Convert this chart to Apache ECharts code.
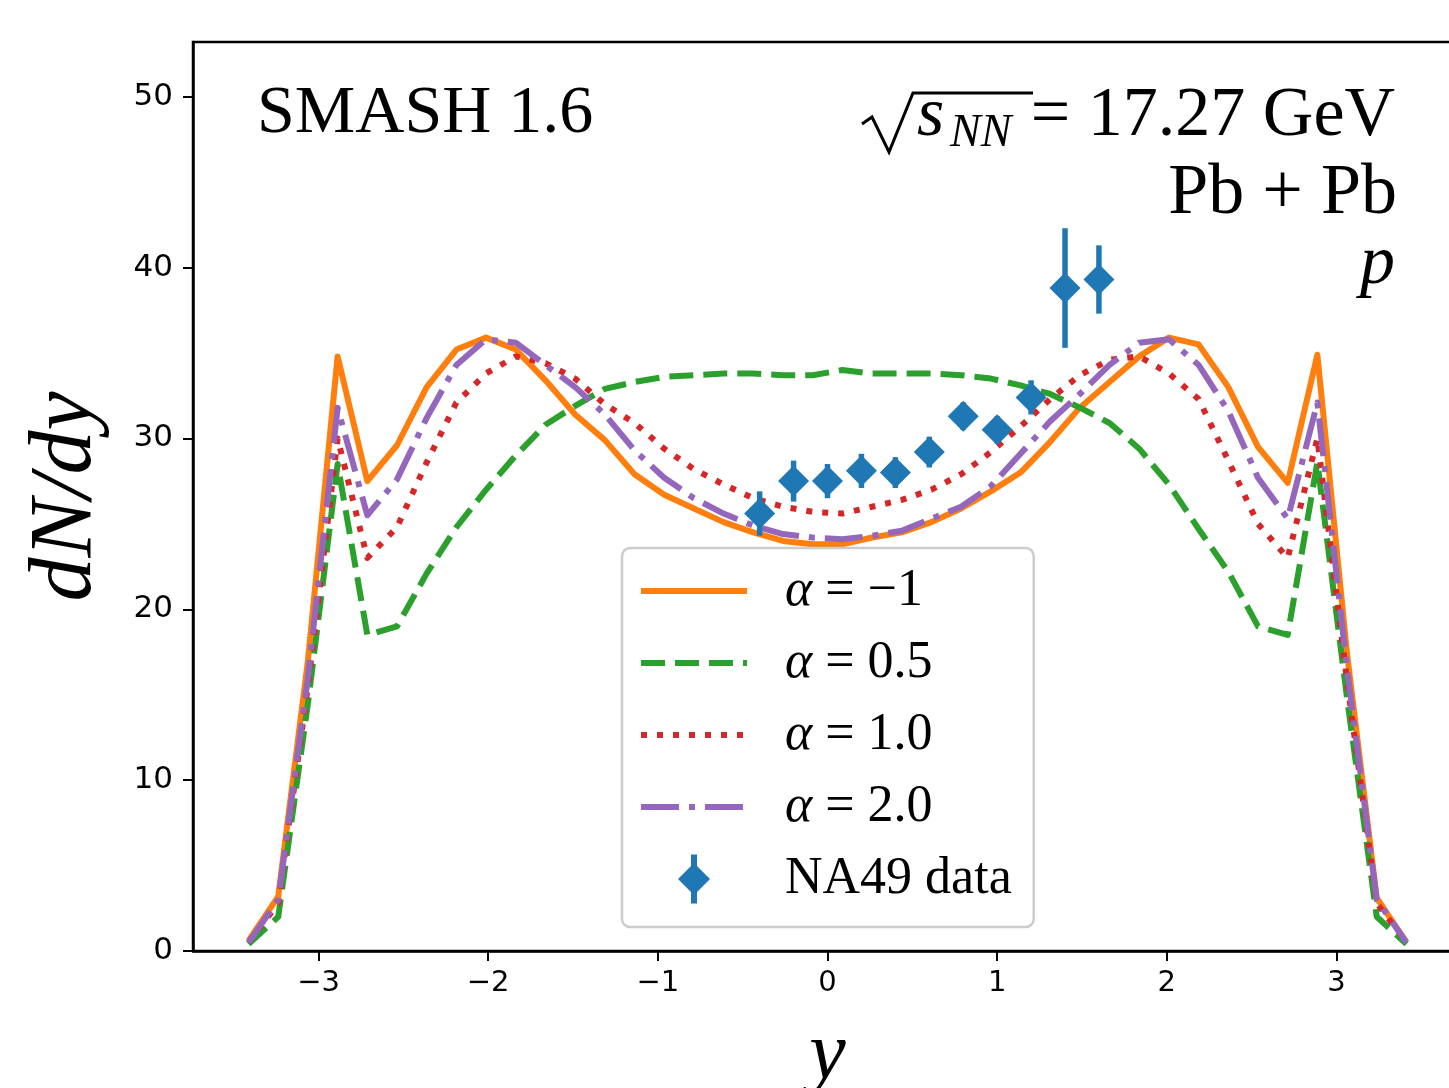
<!DOCTYPE html>
<html><head><meta charset="utf-8">
<script src="https://cdn.jsdelivr.net/npm/echarts@6.0.0/dist/echarts.min.js"></script>
<style>html,body{margin:0;padding:0;background:#fff;}#c{width:1449px;height:1088px;}</style>
</head><body><div id="c"></div>
<script>
// rapidity bin centres
const rapidity = [-3.4125,-3.2375,-3.0625,-2.8875,-2.7125,-2.5375,-2.3625,-2.1875,-2.0125,-1.8375,
  -1.6625,-1.4875,-1.3125,-1.1375,-0.9625,-0.7875,-0.6125,-0.4375,-0.2625,-0.0875,
  0.0875,0.2625,0.4375,0.6125,0.7875,0.9625,1.1375,1.3125,1.4875,1.6625,
  1.8375,2.0125,2.1875,2.3625,2.5375,2.7125,2.8875,3.0625,3.2375,3.4125];
const alphaM1 = [0.6,3.2,17.0,34.8,27.5,29.6,33.0,35.2,35.9,35.2,
  33.4,31.4,29.9,27.9,26.7,25.9,25.1,24.5,24.0,23.8,
  23.8,24.2,24.5,25.1,25.9,26.9,28.0,29.8,31.8,33.3,
  34.8,35.9,35.5,33.0,29.5,27.4,34.9,17.4,3.1,0.5];
const alpha05 = [0.4,2.0,14.5,28.5,18.5,19.0,22.1,24.8,27.0,29.0,
  30.8,31.9,32.9,33.3,33.6,33.7,33.8,33.8,33.7,33.7,
  34.0,33.8,33.8,33.8,33.7,33.5,33.1,32.6,31.8,30.9,
  29.4,27.3,24.7,22.2,19.0,18.5,28.6,14.8,2.0,0.4];
const alpha10 = [0.5,2.8,15.5,30.0,23.0,24.8,28.6,32.1,33.8,34.8,
  34.4,33.5,32.0,30.9,29.4,28.2,27.3,26.5,26.0,25.7,
  25.6,26.0,26.4,27.0,27.9,29.2,30.7,32.3,33.7,34.6,
  34.8,33.8,32.3,28.7,25.0,23.0,30.0,15.8,2.8,0.5];
const alpha20 = [0.5,3.0,16.0,31.8,25.5,27.6,31.2,34.3,35.8,35.6,
  34.3,33.0,31.4,29.3,27.7,26.5,25.6,24.9,24.4,24.2,
  24.1,24.3,24.6,25.3,26.0,27.2,29.1,31.0,32.6,34.3,
  35.6,35.8,34.3,31.6,27.7,25.3,32.1,16.5,3.0,0.5];
// NA49 data
const na49Y   = [-0.4,-0.2,0.0,0.2,0.4,0.6,0.8,1.0,1.2,1.4,1.6];
const na49Val = [25.6,27.5,27.5,28.1,28.0,29.2,31.3,30.5,32.4,38.8,39.3];
const na49Err = [1.3,1.2,1.0,1.0,0.9,0.9,0.8,0.8,1.0,3.5,2.0];
// ticks
const xTicks = [-3,-2,-1,0,1,2,3];
const yTicks = [0,10,20,30,40,50];
const seriesNames = ['α = −1','α = 0.5','α = 1.0','α = 2.0'];
const dataName = 'NA49 data';

const colors = ['#ff7f0e','#2ca02c','#d62728','#9467bd'];
const dashes = ['solid',[24,10],[6,10],[38,10,6,10]];
const curves = [alphaM1, alpha05, alpha10, alpha20];
const LW = 6;

const chart = echarts.init(document.getElementById('c'), null, {renderer:'canvas'});
const fmtNum = v => v < 0 ? '\u2212' + Math.abs(v) : String(v);

const lineSeries = curves.map((arr, k) => ({
  type:'line', name: seriesNames[k],
  data: rapidity.map((x,i)=>[x, arr[i]]),
  showSymbol:false, symbol:'none', smooth:false, z: 2+k,
  lineStyle:{color: colors[k], width: LW, type: dashes[k], cap:'butt', join:'round'},
  itemStyle:{color: colors[k]},
  emphasis:{disabled:true}, animation:false
}));

const errSeries = {
  type:'custom', name: dataName, z: 10,
  data: na49Y.map((x,i)=>[x, na49Val[i]-na49Err[i], na49Val[i]+na49Err[i]]),
  encode:{x:0, y:[1,2]},
  renderItem: (params, api) => {
    const p1 = api.coord([api.value(0), api.value(1)]);
    const p2 = api.coord([api.value(0), api.value(2)]);
    return {type:'line', shape:{x1:p1[0],y1:p1[1],x2:p2[0],y2:p2[1]},
      style:{stroke:'#1f77b4', lineWidth:5.5}};
  },
  animation:false
};
const ptSeries = {
  type:'scatter', name: dataName, z: 11,
  data: na49Y.map((x,i)=>[x, na49Val[i]]),
  symbol:'diamond', symbolSize:[31,31],
  itemStyle:{color:'#1f77b4', opacity:1},
  emphasis:{disabled:true}, animation:false
};

const serif = '"Liberation Serif","Times New Roman",serif';
const sans = '"DejaVu Sans",sans-serif';

chart.setOption({
  animation:false,
  backgroundColor:'#ffffff',
  grid:{left:193, top:42, right:-13, bottom:137, containLabel:false, outerBoundsMode:'none',
    show:true, borderColor:'#000', borderWidth:2.5, backgroundColor:'transparent'},
  xAxis:{
    type:'value', min:-3.74, max:3.74,
    name:'y', nameLocation:'middle', nameGap:64,
    nameTextStyle:{fontFamily:serif, fontStyle:'italic', fontSize:82, color:'#000'},
    axisLine:{show:true, onZero:false, lineStyle:{color:'#000', width:2.5}},
    axisTick:{show:true, length:10, lineStyle:{color:'#000', width:2}, customValues: xTicks},
    axisLabel:{color:'#000', fontFamily:sans, fontSize:29, margin:18, customValues: xTicks, formatter: fmtNum},
    splitLine:{show:false}
  },
  yAxis:{
    type:'value', min:0, max:53.2,
    name:'dN/dy', nameLocation:'middle', nameGap:82,
    nameTextStyle:{fontFamily:serif, fontStyle:'italic', fontSize:88, color:'#000'},
    axisLine:{show:true, onZero:false, lineStyle:{color:'#000', width:2.5}},
    axisTick:{show:true, length:10, lineStyle:{color:'#000', width:2}, customValues: yTicks},
    axisLabel:{color:'#000', fontFamily:sans, fontSize:31, margin:20, customValues: yTicks, formatter: fmtNum},
    splitLine:{show:false}
  },
  legend:{
    orient:'vertical', left:622, top:548,
    padding:[17,22,22,16], itemGap:20, itemWidth:106, itemHeight:49,
    backgroundColor:'rgba(255,255,255,0.8)', borderColor:'#cccccc', borderWidth:2.5, borderRadius:8,
    selectedMode:false,
    lineStyle:{width:LW},
    textStyle:{fontFamily:serif, fontSize:52, lineHeight:52, color:'#000', padding:[0,0,0,33],
      rich:{i:{fontFamily:serif, fontStyle:'italic', fontSize:52, lineHeight:52, color:'#000'}}},
    formatter: n => n.charAt(0) === 'α' ? '{i|α}' + n.slice(1) : n,
    data: seriesNames.map(n => ({name:n, itemStyle:{opacity:0}})).concat([{name:dataName,
      icon:'path://M13,0 H19 V11.5 L32,24.5 L19,37.5 V49 H13 V37.5 L0,24.5 L13,11.5 Z',
      itemStyle:{color:'#1f77b4', opacity:1}}])
  },
  graphic:[
    {type:'text', x:257, y:114, style:{text:'SMASH 1.6', font:'68px '+serif, fill:'#000', textAlign:'left', align:'left', textVerticalAlign:'middle', verticalAlign:'middle'}},
    {type:'polyline', shape:{points:[[862,124],[872,117],[889,152],[913,93],[1033,93]]}, style:{stroke:'#000', lineWidth:3, fill:null}},
    {type:'text', x:917, y:117, style:{text:'s', font:'italic 70px '+serif, fill:'#000', textAlign:'left', align:'left', textVerticalAlign:'middle', verticalAlign:'middle'}},
    {type:'text', x:950, y:134, style:{text:'NN', font:'italic 46px '+serif, fill:'#000', textAlign:'left', align:'left', textVerticalAlign:'middle', verticalAlign:'middle'}},
    {type:'text', x:1395, y:117, style:{text:'= 17.27 GeV', font:'70px '+serif, fill:'#000', textAlign:'right', align:'right', textVerticalAlign:'middle', verticalAlign:'middle'}},
    {type:'text', x:1397, y:194, style:{text:'Pb + Pb', font:'72px '+serif, fill:'#000', textAlign:'right', align:'right', textVerticalAlign:'middle', verticalAlign:'middle'}},
    {type:'text', x:1395, y:265, style:{text:'p', font:'italic 70px '+serif, fill:'#000', textAlign:'right', align:'right', textVerticalAlign:'middle', verticalAlign:'middle'}}
  ],
  series: lineSeries.concat([errSeries, ptSeries])
});
</script>
</body></html>
